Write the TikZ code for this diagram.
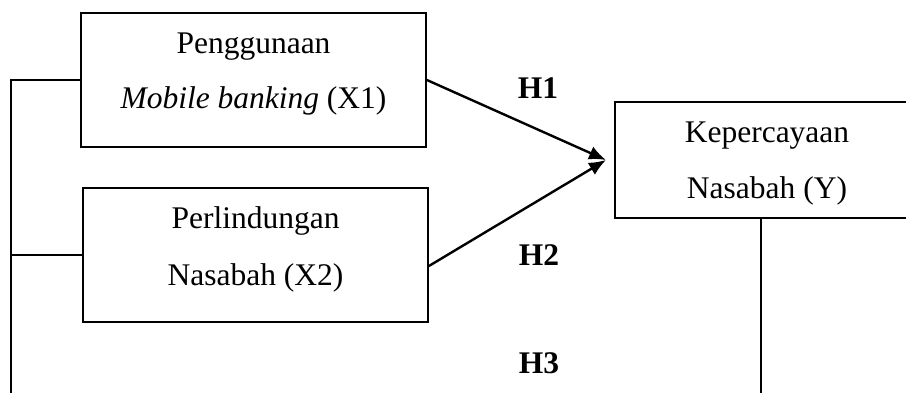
\documentclass[tikz,border=0pt]{standalone}
\usepackage{fontspec}
\setmainfont{Liberation Serif}
\usetikzlibrary{calc,arrows.meta}
\begin{document}
\begin{tikzpicture}[x=1pt,y=-1pt,
  box/.style={draw,line width=1.8pt,rectangle,inner sep=0pt},
  txt/.style={anchor=base,inner sep=0pt,font=\fontsize{31.5}{38}\selectfont},
  hlab/.style={anchor=base,inner sep=0pt,font=\fontsize{31.5}{38}\selectfont\bfseries},
  conn/.style={line width=2.4pt},
  arr/.style={line width=2.4pt,-{Latex[length=17pt,width=14pt]}}]
\useasboundingbox (0,0) rectangle (906,392);
\clip (0,0) rectangle (906,392);
% boxes
\node[box,minimum width=345pt,minimum height=134pt] (x1) at (253.5,80) {};
\node[box,minimum width=345pt,minimum height=134pt] (x2) at (255.5,255) {};
\node[box,minimum width=304pt,minimum height=116pt] (yb) at (767,160) {};
% texts
\node[txt] (t1a) at (253.5,53) {Penggunaan};
\node[txt] (t1b) at (253.5,108) {\textit{Mobile banking} (X1)};
\node[txt] (t2a) at (255.5,228) {Perlindungan};
\node[txt] (t2b) at (255.5,285) {Nasabah (X2)};
\node[txt] (tya) at (767,142) {Kepercayaan};
\node[txt] (tyb) at (767,198) {Nasabah (Y)};
\node[hlab] (h1) at (538,98) {H1};
\node[hlab] (h2) at (539,265) {H2};
\node[hlab] (h3) at (539,373) {H3};
% connectors
\coordinate (tip) at (606,160);
\coordinate (lbot) at (11,400);
\coordinate (ybot) at (761,400);
\draw[arr] (x1.east) -- (tip);
\draw[arr] ($(x2.east)+(0,11)$) -- (tip);
\draw[conn] (x1.west) -- (11,80) -- (lbot);
\draw[conn] (x2.west) -- (x2.west -| lbot);
\draw[conn] (yb.south -| ybot) -- (ybot);
\end{tikzpicture}
\end{document}
